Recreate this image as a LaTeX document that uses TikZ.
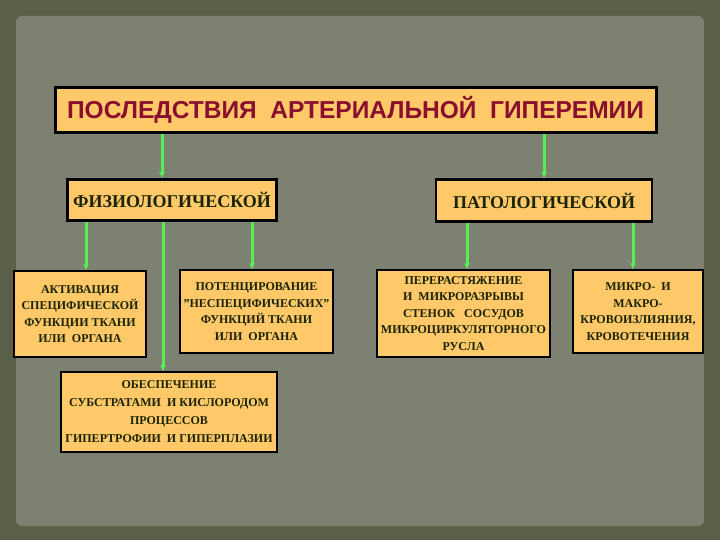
\documentclass[tikz,border=0pt]{standalone}
\usepackage{fontspec}
\setmainfont{Liberation Serif}
\newfontfamily\headfont{Liberation Sans}
\usetikzlibrary{arrows.meta}

\definecolor{outerbg}{HTML}{5A6047}
\definecolor{innerbg}{HTML}{7C8171}
\definecolor{boxfill}{HTML}{FFC869}
\definecolor{headred}{HTML}{8A0F2E}
\definecolor{textdark}{HTML}{1A2405}
\definecolor{arrowgreen}{HTML}{55EE55}

\begin{document}
\begin{tikzpicture}[x=1pt,y=-1pt,
    arr/.style={-{Latex[length=6pt,width=6pt]},draw=arrowgreen,line width=3pt},
    head box/.style={rectangle,draw=black,line width=3pt,fill=boxfill,
      text=headred,font=\headfont\bfseries\fontsize{24.5}{28}\selectfont},
    kind box/.style={rectangle,draw=black,line width=2.5pt,fill=boxfill,
      text=textdark,font=\bfseries\fontsize{18}{21}\selectfont},
    main box/.style={rectangle,draw=black,line width=1.2pt,fill=boxfill,
      text=textdark,align=center,inner sep=1pt,
      font=\bfseries\fontsize{12}{16.5}\selectfont}]
  % background
  \fill[outerbg] (0,0) rectangle (720,540);
  \fill[innerbg,rounded corners=6pt] (16,16) rectangle (704,526);
  \useasboundingbox (0,0) rectangle (720,540);

  \node[head box,minimum width=601pt,minimum height=45pt] (title) at (355.5,110)
    {ПОСЛЕДСТВИЯ\ \ АРТЕРИАЛЬНОЙ\ \ ГИПЕРЕМИИ};
  \node[kind box,minimum width=209pt,minimum height=41pt] (phys) at (172,200)
    {ФИЗИОЛОГИЧЕСКОЙ};
  \node[kind box,minimum width=216pt,minimum height=42pt] (path) at (544,200.5)
    {ПАТОЛОГИЧЕСКОЙ};

  \node[main box,minimum width=132pt,minimum height=86pt] (activ) at (80,314)
    {АКТИВАЦИЯ\\ СПЕЦИФИЧЕСКОЙ\\ ФУНКЦИИ ТКАНИ\\ ИЛИ\ \ ОРГАНА};
  \node[main box,minimum width=153pt,minimum height=83pt] (poten) at (256.5,311.5)
    {ПОТЕНЦИРОВАНИЕ\\ \symbol{34}НЕСПЕЦИФИЧЕСКИХ\symbol{34}\\ ФУНКЦИЙ ТКАНИ\\ ИЛИ\ \ ОРГАНА};
  \node[main box,minimum width=216pt,minimum height=80pt,
        font=\bfseries\fontsize{12}{18}\selectfont] (supply) at (169,412)
    {ОБЕСПЕЧЕНИЕ\\ СУБСТРАТАМИ\ \ И КИСЛОРОДОМ\\ ПРОЦЕССОВ\\ ГИПЕРТРОФИИ\ \ И ГИПЕРПЛАЗИИ};
  \node[main box,minimum width=173pt,minimum height=87pt] (over) at (463.5,313.5)
    {ПЕРЕРАСТЯЖЕНИЕ\\ И\ \ МИКРОРАЗРЫВЫ\\ СТЕНОК\ \ \ СОСУДОВ\\ МИКРОЦИРКУЛЯТОРНОГО\\ РУСЛА};
  \node[main box,minimum width=130pt,minimum height=83pt] (micro) at (638,311.5)
    {МИКРО-\ \ И\\ МАКРО-\\ КРОВОИЗЛИЯНИЯ,\\ КРОВОТЕЧЕНИЯ};

  % connectors
  \draw[arr] ([xshift=-10pt]phys.north |- title.south) -- ([xshift=-10pt]phys.north);
  \draw[arr] (path.north |- title.south) -- (path.north);
  \draw[arr] ([xshift=6pt]activ.north |- phys.south) -- ([xshift=6pt]activ.north);
  \draw[arr] ([xshift=-6pt]supply.north |- phys.south) -- ([xshift=-6pt]supply.north);
  \draw[arr] ([xshift=-4.5pt]poten.north |- phys.south) -- ([xshift=-4.5pt]poten.north);
  \draw[arr] ([xshift=3.5pt]over.north |- path.south) -- ([xshift=3.5pt]over.north);
  \draw[arr] ([xshift=-5pt]micro.north |- path.south) -- ([xshift=-5pt]micro.north);
\end{tikzpicture}
\end{document}
